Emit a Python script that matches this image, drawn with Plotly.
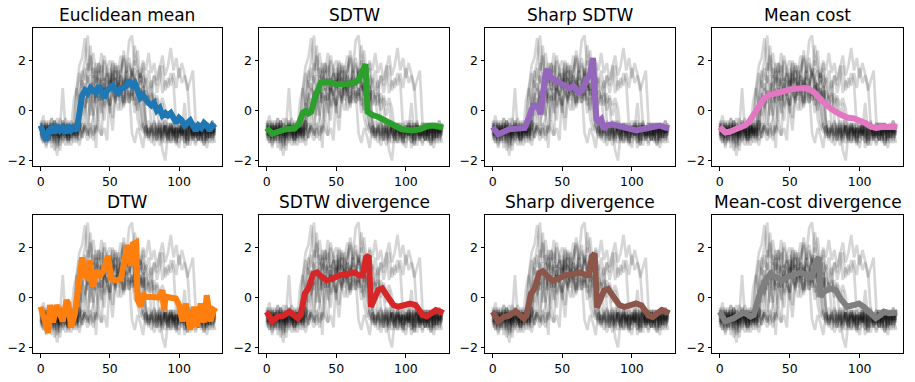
import plotly.graph_objects as go

# time steps of the gray training series (every 2nd sample)
T = list(range(0, 128, 2))

# gray input series (64 samples each)
s1 = [-0.6, -1.1, -0.5, -0.9, -1.3, -0.4, -0.8, -1.0,
      -0.5, -0.9, -1.2, -0.6, -0.8, -1.1, 0.6, 1.2,
      0.8, 1.4, 0.9, 1.1, 0.5, 1.3, 1.0, 0.7,
      1.2, 0.9, 1.4, 0.8, 1.1, 0.6, 1.3, 1.0,
      0.9, 1.5, 1.1, 0.8, 1.2, -0.6, -0.9, -0.4,
      -1.0, -0.7, -1.2, -0.5, -0.9, -0.6, -1.3, -0.8,
      -0.5, -1.1, -0.7, -0.9, -0.4, -1.2, -0.8, -0.6,
      -1.0, -0.7, -1.3, -0.5, -0.9, -0.6, -1.1, -0.7]
s2 = [-0.9, -0.5, -1.2, -0.7, -0.3, -1.0, -0.8, -1.4,
      -0.6, -0.9, -0.4, -1.1, -0.7, -1.0, -0.5, 0.4,
      0.9, 0.5, 1.1, 0.3, 0.8, 1.0, 0.4, 0.9,
      0.6, 1.2, 0.7, 0.3, 1.0, 0.8, 0.5, 1.1,
      0.7, 0.4, 1.0, 0.6, 0.9, 0.3, -0.5, -1.0,
      -0.7, -1.2, -0.6, -0.9, -0.4, -1.1, -0.8, -0.5,
      -1.3, -0.7, -0.9, -0.5, -1.0, -0.6, -1.4, -0.8,
      -0.5, -1.0, -0.7, -1.2, -0.6, -0.9, -0.4, -0.8]
s3 = [-0.4, -0.8, -1.0, -0.6, -1.5, -0.9, -0.5, -1.1,
      -0.8, -0.3, -1.0, -0.7, -1.3, 0.9, 1.8, 2.1,
      2.9, 1.6, 2.2, 1.3, 1.9, 1.5, 2.3, 1.2,
      1.7, 2.0, 1.4, 1.8, 1.1, 1.6, 2.2, 1.5,
      1.9, 1.3, 1.7, -0.3, -0.8, -0.5, -1.1, -0.7,
      -0.9, -0.4, -1.0, -1.4, -0.6, -0.8, -1.2, -0.5,
      -0.9, -0.7, -1.1, -0.6, -1.5, -0.8, -0.4, -1.0,
      -0.7, -1.2, -0.5, -0.9, -1.3, -0.6, -0.8, -1.0]
s4 = [-1.0, -0.6, -1.3, -0.8, -0.5, -1.6, -0.9, -0.7,
      -1.2, -0.6, -1.0, -0.4, -0.9, -1.3, -0.7, -0.5,
      0.2, 0.6, -0.2, 0.8, 0.3, -0.4, 0.7, 0.1,
      0.5, -0.1, 0.9, 0.4, 0.0, 0.6, 0.2, 0.8,
      0.3, 0.7, -0.1, 0.5, 0.2, -0.6, -1.0, -0.7,
      -1.3, -0.8, -0.5, -1.1, -0.9, -0.6, -1.2, -0.7,
      -0.9, -1.4, -0.6, -0.8, -1.1, -0.5, -0.9, -1.2,
      -0.6, -0.8, -1.0, -0.5, -1.2, -0.7, -0.9, -0.6]
s5 = [-0.7, -1.2, -0.8, -0.5, -1.0, -0.6, -1.3, -0.9,
      -0.4, -0.8, -1.1, -0.6, -0.9, -0.5, -1.2, -0.8,
      -0.6, -1.0, 0.7, 1.4, 1.0, 1.6, 0.8, 1.3,
      1.1, 0.7, 1.5, 1.2, 0.9, 1.4, 1.0, 1.7,
      1.2, 0.8, 1.3, 1.6, 1.0, 1.4, 1.1, 0.7,
      1.2, -0.4, -0.9, -0.6, -1.1, -0.7, -0.5, -1.0,
      -0.8, -1.3, -0.6, -0.9, -0.7, -1.2, -0.5, -0.8,
      -1.1, -0.6, -0.9, -1.4, -0.7, -0.5, -1.0, -0.8]
s6 = [-0.5, -0.9, -0.6, -1.2, -0.8, -0.4, -1.0, -0.7,
      -1.3, -0.6, -0.9, -0.5, -1.1, -0.7, -0.4, -0.9,
      -0.6, -1.0, -0.7, -0.3, 1.2, 1.9, 1.4, 2.2,
      1.6, 1.1, 2.0, 1.5, 1.8, 1.2, 2.4, 1.7,
      2.1, 1.4, 2.6, 1.8, 1.3, 2.0, 1.6, 2.3,
      1.5, 1.9, 1.2, 1.7, 2.2, 1.4, 1.8, 2.5,
      1.6, 2.1, 1.3, 1.9, 1.5, 1.0, -0.6, -1.0,
      -0.7, -1.2, -0.5, -0.9, -0.6, -1.1, -0.8, -0.5]
s7 = [-0.8, -0.4, -1.1, -0.7, -0.9, -0.5, -1.4, -0.8,
      -0.6, -1.0, -0.7, -1.2, -0.5, -0.8, -0.4, -1.1,
      -0.7, -0.9, -0.5, -1.2, -0.6, -0.8, -1.0, 0.9,
      1.5, 0.8, 1.9, 1.2, 1.6, 2.2, 1.0, 1.7,
      2.8, 3.0, 1.8, 2.4, 1.3, 1.9, 1.1, 1.6,
      0.9, 1.4, 0.7, 1.2, 1.8, 0.8, 1.3, 1.0,
      1.5, 0.9, 1.7, 1.1, 1.4, 0.8, 1.2, 1.6,
      -0.5, -0.9, -1.2, -0.6, -0.8, -1.1, -0.7, -0.9]
s8 = [-1.1, -0.7, -1.5, -0.9, -0.6, -1.2, -1.8, -0.8,
      -1.0, -1.4, -0.7, -1.1, -0.5, -0.9, 0.3, -0.2,
      0.5, -0.6, 0.4, -0.1, -1.5, 0.6, 0.2, -0.4,
      0.7, 0.1, -0.8, 0.5, 0.9, 0.0, 0.6, 0.3,
      0.8, -0.9, -1.3, -0.7, -1.0, -1.5, -0.6, -1.2,
      -0.8, -1.4, -1.0, -0.7, -1.6, -2.0, -0.9, -1.2,
      -0.7, -1.1, -1.5, -0.8, -1.0, -1.3, -0.6, -1.1,
      -1.4, -0.9, -1.2, -0.7, -1.5, -1.0, -1.3, -0.8]
s9 = [-0.6, -1.0, -0.7, -1.3, -0.5, -0.9, -0.8, -1.1,
      -0.4, -0.8, -1.2, -0.6, -1.0, -0.7, -1.4, -0.9,
      -0.5, -0.8, -1.1, -0.6, -0.9, -0.4, -1.0, -0.7,
      -1.2, 0.8, 1.3, 0.7, 1.6, 1.1, 0.6, 1.4,
      1.0, 1.7, 1.2, 0.8, 1.5, 0.9, 1.3, 1.1,
      0.6, 1.4, 1.0, 1.8, 0.7, 1.2, 0.9, 1.5,
      1.1, -0.7, -1.0, -0.6, -1.3, -0.8, -0.5, -1.1,
      -0.9, -1.2, -0.6, -1.0, -0.7, -1.3, -0.8, -0.6]
s10 = [-0.9, -1.3, -0.6, -1.0, -0.7, -1.2, -0.5, -1.6,
       -0.8, -1.1, -0.6, -1.4, -0.9, -0.7, -1.0, 1.4,
       2.0, 3.0, 1.6, 2.3, 1.5, 1.9, 1.2, 2.0,
       1.4, 1.7, 1.1, 1.9, 1.3, 1.6, 2.1, 1.2,
       1.8, 1.4, 2.0, 1.5, 1.1, 1.7, -0.5, -0.9,
       -0.6, -1.1, -0.8, -0.4, -1.0, -1.3, -0.7, -0.9,
       -0.5, -1.2, -0.8, -1.0, -0.6, -1.4, -0.9, -0.7,
       -1.1, -0.5, -0.9, -1.3, -0.8, -0.6, -1.2, -0.9]
s11 = [-0.7, -0.2, -1.0, -0.6, -1.2, -0.8, -0.3, -0.9,
       -0.6, -1.1, -0.5, -0.8, 0.4, 0.9, 0.2, 0.7,
       0.1, 0.8, 0.4, 1.0, 0.3, 0.6, -0.1, 0.9,
       0.5, 0.2, 0.8, 0.4, 1.1, 0.6, 0.3, 0.9,
       0.5, 0.8, 0.2, 0.7, 0.4, 1.0, 0.3, 0.6,
       0.2, 0.7, 0.1, -0.8, -1.2, -0.6, -1.0, -0.5,
       -1.1, -0.7, -0.9, -0.4, -1.3, -0.8, -0.6, -1.0,
       -0.7, -1.2, -0.5, -0.9, -0.7, -1.1, -0.6, -0.8]
s12 = [-0.8, -1.3, -0.7, -0.4, -1.0, -0.8, -1.5, -0.6,
       -0.9, -0.5, -1.2, -0.8, -0.6, -1.0, -0.7, -1.1,
       -0.5, 1.3, 2.6, 1.0, 1.7, 0.8, 1.4, 1.1,
       0.7, 1.5, 1.0, 1.3, 0.6, 1.2, 0.9, 1.6,
       1.0, 1.4, 0.8, 1.1, -0.4, -0.9, -0.6, -1.1,
       -0.7, -0.5, -1.0, -0.8, -1.3, -0.6, -0.9, -0.7,
       -1.2, -0.5, -0.8, -1.0, -0.6, -1.4, -0.9, -0.7,
       -0.5, -1.0, -0.8, -0.6, -1.1, -0.7, -0.9, -0.6]
s13 = [-0.5, -0.9, -1.1, -0.6, -0.8, -0.4, -1.0, -0.7,
       0.9, -0.8, -0.5, -1.0, -0.7, -1.2, 1.0, 1.6,
       1.2, 1.9, 1.4, 1.7, 1.1, 1.5, 1.8, 1.2,
       1.4, 1.0, 1.6, 1.1, 1.3, 0.8, 1.2, 0.9,
       1.1, 0.6, 1.0, 0.7, 0.9, 0.4, 0.8, 0.5,
       0.7, 0.3, 0.6, 0.2, 0.5, 0.1, -0.9, -0.6,
       -1.0, -0.7, -1.3, -0.8, 0.3, -0.9, -0.6, -1.1,
       -0.8, -0.5, -1.0, -0.7, -1.2, -0.6, -0.9, -0.7]
s14 = [-1.2, -0.8, -0.5, -1.0, -0.7, -1.3, -0.9, -0.6,
       -1.0, -0.7, -1.4, -0.9, -0.6, -1.1, -0.8, -0.5,
       -0.9, -1.2, -0.7, -1.0, -0.6, 0.9, 0.4, 1.1,
       0.6, 0.2, 0.9, 0.5, 1.2, 0.7, 0.3, 1.0,
       0.6, 0.9, 0.4, 1.1, 0.5, 0.8, 0.2, 0.7,
       -0.6, -1.0, -0.7, -1.2, -0.5, -0.9, -1.1, -0.6,
       -0.8, -1.3, -0.7, -1.0, -0.5, -0.9, -1.2, -0.7,
       -1.0, -0.6, -0.9, -1.4, -0.7, -0.8, -1.1, -0.6]
s15 = [-1.0, -0.6, -1.4, -0.8, -0.3, -1.1, -0.7, -1.2,
       -0.5, -0.9, -1.3, -0.6, -1.0, -0.4, -0.8, 0.5,
       1.1, 0.3, 0.9, -0.2, 0.7, 0.4, 1.2, 0.2,
       0.8, 0.5, -0.3, 0.9, 0.4, 1.0, 0.1, 0.7,
       0.3, 0.9, 0.5, 0.0, 0.8, 0.4, 1.1, 0.2,
       0.6, 0.0, 0.5, -0.2, 0.3, -1.0, -0.6, -1.3,
       -0.7, -0.9, -0.4, -1.2, -0.8, -0.5, -1.0, -0.7,
       -1.3, -0.6, -0.9, -0.5, -1.1, -0.8, -0.4, -0.9]
s16 = [-0.7, -1.0, -0.4, -1.2, -0.9, -0.6, -1.1, -0.3,
       -0.8, -1.2, -0.6, -0.9, -0.5, 0.8, 1.5, 0.9,
       1.7, 1.1, 1.4, 0.7, 1.6, 1.0, 1.3, 0.8,
       1.5, 1.2, 0.9, 1.6, 1.0, 1.4, 0.7, 1.3,
       1.1, 1.6, 0.9, 1.2, 1.5, 1.0, -0.7, -1.1,
       -0.5, -0.9, -1.2, -0.7, -1.0, -0.4, -0.8, -1.3,
       -0.6, -0.9, -1.1, -0.5, -0.8, -1.0, -0.6, -1.2,
       -0.9, -0.5, -1.1, -0.8, -0.6, -1.0, -0.7, -1.3]
series = [s1, s2, s3, s4, s5, s6, s7, s8, s9, s10, s11, s12, s13, s14, s15, s16]

# barycenters
euc_y = [-0.6, -0.9, -1.2, -0.8, -0.7, -0.9, -0.6, -0.8,
         -0.7, -0.9, -0.6, -0.8, -0.7, -0.8, 0.0, 0.6,
         0.8, 0.7, 0.9, 0.8, 0.7, 1.0, 0.8, 0.5,
         0.8, 0.9, 1.0, 0.8, 0.7, 0.9, 0.9, 1.0,
         1.2, 1.0, 1.1, 0.8, 0.5, 0.6, 0.4, 0.3,
         0.2, 0.3, 0.0, 0.1, -0.2, -0.1, -0.2, -0.1,
         -0.3, -0.5, -0.3, -0.4, -0.6, -0.5, -0.4, -0.6,
         -0.8, -0.6, -0.7, -0.5, -0.6, -0.8, -0.6, -0.7]

sdtw_t = [0, 4, 8, 14, 20, 23, 26, 28, 30, 32, 35, 39, 44, 50, 56, 62, 66, 68, 70, 71,
          72.5, 74, 76, 80, 88, 97, 104, 110, 116, 120, 124, 127]
sdtw_y = [-0.7, -0.93, -0.85, -0.75, -0.72, -0.55, -0.08, -0.02, -0.12, -0.05, 0.55, 1.12,
          1.15, 1.05, 1.05, 1.1, 1.2, 1.45, 1.8, 1.85, -0.05, -0.12, -0.18, -0.25, -0.5,
          -0.75, -0.8, -0.75, -0.62, -0.6, -0.65, -0.68]

sharp_t = [0, 4, 8, 12, 18, 23, 26, 28, 30.5, 33, 34.5, 36, 38, 39.5, 42, 47, 52, 55.5, 58,
           61.5, 64, 67, 70, 72, 73.5, 74.5, 76, 78, 80, 82, 86, 92, 98, 103, 110, 116, 120,
           124, 127]
sharp_y = [-0.66, -0.95, -0.85, -0.75, -0.72, -0.7, -0.3, 0.05, 0.2, 0.1, -0.15, 0.6, 1.5,
           1.63, 1.3, 1.15, 0.97, 0.88, 0.98, 0.72, 0.8, 1.1, 1.5, 2.1, -0.2, -0.35, -0.45,
           -0.35, -0.75, -0.6, -0.55, -0.62, -0.7, -0.8, -0.72, -0.65, -0.6, -0.68, -0.7]

mc_t = [0, 2, 4, 7, 10, 14, 18, 21, 24, 28, 32, 36, 41, 46, 51, 56, 61, 64, 68, 74,
        80, 86, 91, 96, 100, 104, 108, 112, 116, 120, 124, 127]
mc_y = [-0.66, -0.8, -0.88, -0.85, -0.78, -0.7, -0.6, -0.45, -0.2, 0.2, 0.5, 0.63, 0.72,
        0.8, 0.85, 0.88, 0.9, 0.85, 0.7, 0.35, 0.05, -0.15, -0.28, -0.32, -0.38, -0.5,
        -0.65, -0.7, -0.66, -0.63, -0.65, -0.68]

dtw_t = [0, 3, 5.5, 6.7, 9, 11.5, 14, 16, 18.7, 20, 22, 24.6, 27, 30, 32, 34, 35.4, 37.8,
         40, 42.6, 46, 48.6, 51, 54.5, 58, 60.5, 63, 65.3, 66.5, 69, 70, 72.5, 73.7, 76,
         85.6, 88, 89, 90.4, 97.6, 100, 102.4, 104.8, 108, 110.8, 113, 115.6, 118, 120,
         122.7, 125, 127]
dtw_y = [-0.37, -1.0, -1.42, -0.3, -1.0, -0.3, -0.6, -0.96, -0.1, -0.24, -1.2, -0.7, 0.29,
         1.6, 0.88, 0.8, 1.5, 0.42, 1.08, 0.82, 1.14, 1.67, 0.75, 0.68, 0.75, 1.6, 2.1,
         1.27, 2.13, 2.2, -0.1, -0.37, 0.16, 0.03, 0.0, 0.29, -0.5, 0.03, -0.04, -0.3,
         -0.96, -0.24, -1.29, -0.37, -1.16, -0.24, -1.0, 0.09, -0.96, -0.5, -0.57]

sdiv_t = [0, 4, 8, 11.5, 16.4, 19, 22.5, 24.4, 27.4, 30, 33.5, 36, 38.4, 43, 47, 52, 59, 63,
          66.5, 69, 71.4, 73.3, 75, 77.5, 80, 83, 86, 91, 94.6, 98.3, 103, 107, 112, 115,
          119, 121.5, 125, 127]
sdiv_y = [-0.57, -0.96, -0.76, -0.74, -0.57, -0.7, -0.83, -0.7, 0.16, 0.36, 0.95, 1.0, 0.88,
          0.68, 0.75, 0.88, 0.95, 1.0, 0.88, 0.88, 1.6, 1.67, -0.37, -0.04, 0.29, 0.36,
          0.09, -0.3, -0.37, -0.3, -0.24, -0.3, -0.7, -0.76, -0.63, -0.5, -0.57, -0.63]
shdiv_y = [-0.57, -0.96, -0.78, -0.74, -0.55, -0.68, -0.85, -0.72, 0.14, 0.34, 0.98, 1.05,
           0.9, 0.66, 0.75, 0.88, 0.95, 1.0, 0.9, 0.9, 1.65, 1.75, -0.4, -0.06, 0.28, 0.34,
           0.08, -0.3, -0.38, -0.32, -0.24, -0.32, -0.72, -0.78, -0.63, -0.5, -0.58, -0.63]

mcdiv_t = [0, 4, 10, 16, 18.4, 22, 24.3, 28, 32.7, 36.3, 39.9, 44.6, 48, 54, 58, 62.5, 66,
           69, 71, 72, 74.5, 79, 83, 86.4, 91, 96, 99.5, 103, 106.7, 111.5, 115, 117.4, 121,
           125.8, 127]
mcdiv_y = [-0.57, -0.96, -0.83, -0.63, -0.63, -0.76, -0.7, 0.03, 0.68, 0.95, 0.82, 0.68,
           0.82, 0.95, 1.0, 0.88, 0.82, 1.47, 1.6, 0.03, 0.22, 0.36, 0.29, -0.04, -0.37,
           -0.3, -0.24, -0.37, -0.57, -0.83, -0.7, -0.57, -0.63, -0.57, -0.6]

titles = ["Euclidean mean", "SDTW", "Sharp SDTW", "Mean cost",
          "DTW", "SDTW divergence", "Sharp divergence", "Mean-cost divergence"]
bary = [(T, euc_y), (sdtw_t, sdtw_y), (sharp_t, sharp_y), (mc_t, mc_y),
        (dtw_t, dtw_y), (sdiv_t, sdiv_y), (sdiv_t, shdiv_y), (mcdiv_t, mcdiv_y)]
colors = ["#1f77b4", "#2ca02c", "#9467bd", "#e377c2",
          "#ff7f0e", "#d62728", "#8c564b", "#7f7f7f"]

W, H = 915, 382
col_px = [(33, 222), (259, 449), (485, 675), (712, 903)]
row_px = [(28, 166), (215, 353)]
FONT = "DejaVu Sans"

fig = go.Figure()
layout = dict(width=W, height=H, margin=dict(l=0, r=0, t=0, b=0),
              paper_bgcolor="white", plot_bgcolor="white", showlegend=False,
              font=dict(family=FONT, color="black"))
annotations = []

for i, title in enumerate(titles):
    r, c = divmod(i, 4)
    n = i + 1
    xa, ya = ("x", "y") if n == 1 else ("x%d" % n, "y%d" % n)
    for s in series:
        fig.add_trace(go.Scatter(x=T, y=s, mode="lines", xaxis=xa, yaxis=ya,
                                 line=dict(color="rgba(0,0,0,0.16)", width=2.7),
                                 hoverinfo="skip"))
    bx, by = bary[i]
    fig.add_trace(go.Scatter(x=bx, y=by, mode="lines", xaxis=xa, yaxis=ya,
                             line=dict(color=colors[i], width=6)))

    x0, x1 = col_px[c]
    y0, y1 = row_px[r]
    ax = dict(showline=True, linecolor="black", linewidth=1, mirror=True,
              ticks="outside", ticklen=3.5, tickwidth=0.8, tickcolor="black",
              showgrid=False, zeroline=False, automargin=False,
              tickfont=dict(size=12.5))
    layout["xaxis" if n == 1 else "xaxis%d" % n] = dict(
        ax, domain=[x0 / W, x1 / W], range=[-5.5, 131], tickvals=[0, 50, 100],
        anchor=ya)
    layout["yaxis" if n == 1 else "yaxis%d" % n] = dict(
        ax, domain=[1 - y1 / H, 1 - y0 / H], range=[-2.22, 3.3], tickvals=[-2, 0, 2],
        anchor=xa)
    annotations.append(dict(text=title, x=(x0 + x1) / 2 / W, y=1 - (y0 - 1) / H,
                            xref="paper", yref="paper", xanchor="center",
                            yanchor="bottom", showarrow=False,
                            font=dict(size=17, family=FONT, color="black")))

layout["annotations"] = annotations
fig.update_layout(**layout)
# drop the browser's default body margin so the figure sits at the page origin
fig.write_html("out.html", config={"displayModeBar": False},
               post_script="document.body.style.margin='0';")
